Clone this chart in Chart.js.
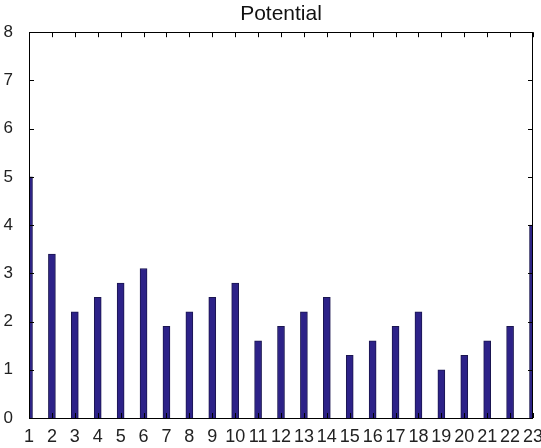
<!DOCTYPE html>
<html>
<head>
<meta charset="utf-8">
<script src="https://cdn.jsdelivr.net/npm/chart.js@4/dist/chart.umd.min.js"></script>
<style>
  html, body { margin: 0; padding: 0; background: #fff; }
  #wrap { width: 541px; height: 448px; position: relative; }
</style>
</head>
<body>
<div id="wrap"><canvas id="potentialChart"></canvas></div>
<script>
// Potential values per node 1..23
const nodes = [1, 2, 3, 4, 5, 6, 7, 8, 9, 10, 11, 12, 13, 14, 15, 16, 17, 18, 19, 20, 21, 22, 23];
const potential = [5.0, 3.4, 2.2, 2.5, 2.8, 3.1, 1.9, 2.2, 2.5, 2.8, 1.6, 1.9, 2.2, 2.5, 1.3, 1.6, 1.9, 2.2, 1.0, 1.3, 1.6, 1.9, 4.0];
const yTicks = [0, 1, 2, 3, 4, 5, 6, 7, 8];

const FONT = 'Liberation Sans, Arial, sans-serif';

// MATLAB-like box with inward tick marks on all four sides
const boxTicks = {
  id: 'boxTicks',
  afterDraw(chart) {
    const { ctx, chartArea: a, scales } = chart;
    const len = 5;
    ctx.save();
    ctx.strokeStyle = '#000';
    ctx.lineWidth = 1;
    ctx.beginPath();
    scales.x.ticks.forEach(t => {
      const px = Math.round(scales.x.getPixelForValue(t.value)) + 0.5;
      ctx.moveTo(px, a.bottom); ctx.lineTo(px, a.bottom - len);
      ctx.moveTo(px, a.top); ctx.lineTo(px, a.top + len);
    });
    scales.y.ticks.forEach(t => {
      const py = Math.round(scales.y.getPixelForValue(t.value)) + 0.5;
      ctx.moveTo(a.left, py); ctx.lineTo(a.left + len, py);
      ctx.moveTo(a.right, py); ctx.lineTo(a.right - len, py);
    });
    ctx.stroke();
    ctx.strokeRect(Math.round(a.left) + 0.5, Math.round(a.top) + 0.5,
      Math.round(a.right - a.left) - 1, Math.round(a.bottom - a.top));
    ctx.restore();
  }
};

new Chart(document.getElementById('potentialChart'), {
  type: 'bar',
  data: {
    datasets: [{
      data: nodes.map((n, i) => ({ x: n, y: potential[i] })),
      backgroundColor: '#2d2288',
      borderColor: '#1b1650',
      borderWidth: 1,
      barThickness: 7
    }]
  },
  options: {
    responsive: true,
    maintainAspectRatio: false,
    animation: false,
    layout: { padding: { left: 0, right: 8, top: 0, bottom: 0 } },
    plugins: {
      legend: { display: false },
      tooltip: { enabled: false },
      title: {
        display: true,
        fullSize: false,
        text: 'Potential',
        color: '#111',
        font: { family: FONT, size: 21, weight: 'normal', lineHeight: 1.2 },
        padding: { top: 2, bottom: 5 }
      }
    },
    scales: {
      x: {
        type: 'linear',
        min: 1,
        max: 23,
        offset: false,
        grid: { display: false, drawTicks: false },
        border: { display: false },
        ticks: {
          stepSize: 1,
          autoSkip: false,
          maxRotation: 0,
          padding: 8,
          color: '#222',
          font: { family: FONT, size: 18 },
          callback: v => nodes.includes(v) ? String(v) : ''
        },
        afterFit: s => { s.height = 30; s.paddingLeft = 0; s.paddingRight = 0; }
      },
      y: {
        min: 0,
        max: 8,
        grid: { display: false, drawTicks: false },
        border: { display: false },
        afterBuildTicks: s => { s.ticks = yTicks.map(v => ({ value: v })); },
        ticks: {
          padding: 16,
          color: '#222',
          font: { family: FONT, size: 17 }
        },
        afterFit: s => { s.width = 29; s.paddingTop = 0; s.paddingBottom = 0; }
      }
    }
  },
  plugins: [boxTicks]
});
</script>
</body>
</html>
